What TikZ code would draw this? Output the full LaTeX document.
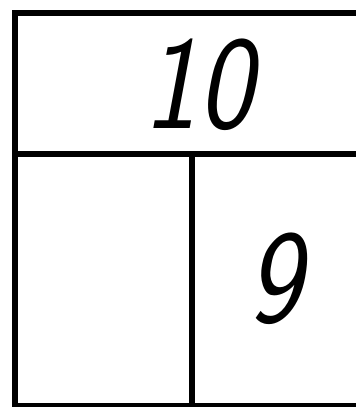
\documentclass[tikz,border=0pt]{standalone}
\usetikzlibrary{positioning, calc}
\tikzset{
    barline/.style={line width=4.2pt, line cap=rect},
    numlabel/.style={inner sep=0pt, xscale=0.87,
                     font=\fontsize{100}{100}\selectfont\sffamily\slshape},
}

\begin{document}
\begin{tikzpicture}[x=0.75pt, y=-0.75pt]
    \useasboundingbox (0,0) rectangle (356,407);
    % outer bar and the split into two parts
    \draw[barline] (360,13) -- (15,13) -- (15,408);
    \draw[barline] (15,406) -- (360,406);
    \draw[barline] (15,154) -- (360,154);
    \draw[barline] (192,154) -- (192,406);
    % whole and part
    \node[numlabel] (whole) at (198,85) {10};
    \node[numlabel] (part) at (275,279) {9};
\end{tikzpicture}
\end{document}
